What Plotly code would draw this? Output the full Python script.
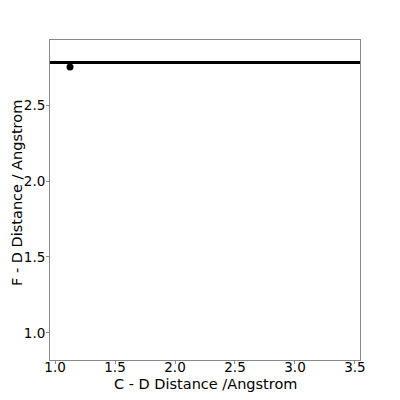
import plotly.graph_objects as go

# measured points
cd_distance = [1.125]
fd_distance = [2.75]
# reference level
fd_reference = 2.78

x_ticks = [1.0, 1.5, 2.0, 2.5, 3.0, 3.5]
y_ticks = [1.0, 1.5, 2.0, 2.5]

fig = go.Figure()
fig.add_trace(go.Scatter(x=cd_distance, y=fd_distance, mode='markers',
                         marker=dict(color='black', size=7), showlegend=False))
fig.add_hline(y=fd_reference, line=dict(color='black', width=3))

axis_style = dict(showgrid=False, zeroline=False, showline=True, mirror=True,
                  linecolor='#888888', linewidth=1, ticks='outside', ticklen=3,
                  tickcolor='#888888', tickfont=dict(size=13.5, color='black'),
                  automargin=False)

fig.update_layout(
    width=400, height=400,
    paper_bgcolor='white', plot_bgcolor='white',
    font=dict(family='DejaVu Sans', color='black'),
    # page body adds an 8px offset, so margins are shifted to compensate
    margin=dict(l=42, r=48, t=32, b=48),
    xaxis=dict(range=[0.958, 3.542], tickvals=x_ticks, ticktext=['%.1f' % v for v in x_ticks],
               ticklabelstandoff=-8, **axis_style),
    yaxis=dict(range=[0.822, 2.928], tickvals=y_ticks, ticktext=['%.1f' % v for v in y_ticks],
               ticklabelstandoff=-2, **axis_style),
)

# axis titles as annotations so they sit where the reference has them
fig.add_annotation(text='C - D Distance /Angstrom', xref='paper', yref='paper',
                   x=0.5, y=0, yanchor='middle', yshift=-24, showarrow=False,
                   font=dict(size=14.5))
fig.add_annotation(text='F - D Distance / Angstrom', xref='paper', yref='paper',
                   x=0, y=0.5, xanchor='center', xshift=-33, yshift=7, textangle=-90,
                   showarrow=False, font=dict(size=14.5))

fig.write_html('out.html')
